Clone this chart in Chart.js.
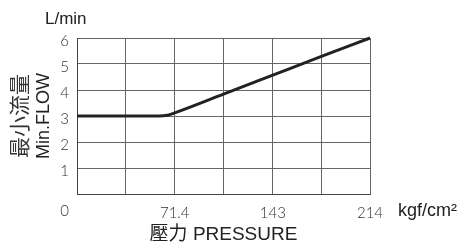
<!DOCTYPE html>
<html>
<head>
<meta charset="utf-8">
<script src="https://cdn.jsdelivr.net/npm/chart.js@4.4.1/dist/chart.umd.min.js"></script>
<style>
  html, body { margin: 0; padding: 0; background: #fff; }
  #wrap { width: 462px; height: 246px; }
</style>
</head>
<body>
<div id="wrap"><canvas id="flowChart"></canvas></div>
<script>
// pressure (kgf/cm2) vs minimum flow (L/min)
const pressure = [0, 60, 66, 71.4, 107, 143, 178.5, 214];
const minFlow = [3, 3, 3.03, 3.12, 3.84, 4.57, 5.29, 6];

// x grid every 1/6 of the range, labels only on every second line
const xGridValues = [0, 35.7, 71.4, 107, 143, 178.5, 214];
const xTickLabels = ['', '', '71.4', '', '143', '', '214'];

const tickFont = { family: 'Lato, "DejaVu Sans", sans-serif', size: 15, weight: 300 };
const titleFamily = '"Liberation Sans", Arial, "Noto Sans CJK TC", sans-serif';

// extra labels the axes do not draw themselves: units, the shared 0, the chinese y title
const extraLabels = {
  id: 'extraLabels',
  afterDraw(chart) {
    const { ctx, chartArea } = chart;
    ctx.save();
    ctx.fillStyle = '#222';
    ctx.font = '17px ' + titleFamily;
    ctx.textBaseline = 'middle';
    ctx.textAlign = 'left';
    ctx.fillText('L/min', 45, 19);
    ctx.font = '18px ' + titleFamily;
    ctx.fillText('kgf/cm²', 398, 211);
    ctx.fillStyle = '#333';
    ctx.font = '300 15px ' + tickFont.family;
    ctx.textAlign = 'right';
    ctx.fillText('0', 69, 211);

    ctx.translate(19, (chartArea.top + chartArea.bottom) / 2);
    ctx.rotate(-Math.PI / 2);
    ctx.textAlign = 'center';
    ctx.fillStyle = '#333';
    ctx.font = '21px "Noto Sans CJK TC", sans-serif';
    ctx.fillText('最小流量', 0, 0);
    ctx.restore();
  }
};

new Chart(document.getElementById('flowChart'), {
  type: 'line',
  data: {
    datasets: [{
      data: pressure.map((p, i) => ({ x: p, y: minFlow[i] })),
      borderColor: '#222',
      borderWidth: 3,
      pointRadius: 0,
      cubicInterpolationMode: 'monotone',
      clip: false
    }]
  },
  options: {
    responsive: true,
    maintainAspectRatio: false,
    animation: false,
    layout: { padding: { top: 38, right: 92, left: 0, bottom: 0 } },
    plugins: { legend: { display: false }, tooltip: { enabled: false } },
    scales: {
      x: {
        type: 'linear',
        min: 0,
        max: 214,
        afterBuildTicks: scale => {
          scale.ticks = xGridValues.map(v => ({ value: v }));
        },
        afterFit: scale => { scale.height = 52; },
        grid: { color: '#666', lineWidth: 1, drawTicks: false },
        border: { color: '#444', width: 1 },
        ticks: {
          padding: 10,
          color: '#333',
          font: tickFont,
          maxRotation: 0,
          autoSkip: false,
          callback: (v, i) => xTickLabels[i]
        },
        title: {
          display: true,
          text: '壓力 PRESSURE',
          color: '#222',
          font: { family: titleFamily, size: 19 },
          padding: { top: 0, bottom: 0 }
        }
      },
      y: {
        min: 0,
        max: 6,
        afterFit: scale => { scale.width = 77; },
        grid: { color: '#666', lineWidth: 1, drawTicks: false },
        border: { color: '#444', width: 1 },
        ticks: {
          stepSize: 1,
          padding: 8,
          labelOffset: 3,
          color: '#333',
          font: tickFont,
          callback: v => (v === 0 ? '' : v)
        },
        title: {
          display: true,
          text: 'Min.FLOW',
          color: '#222',
          font: { family: titleFamily, size: 18, lineHeight: 1.2 },
          padding: { top: 33, bottom: 0 }
        }
      }
    }
  },
  plugins: [extraLabels]
});
</script>
</body>
</html>
